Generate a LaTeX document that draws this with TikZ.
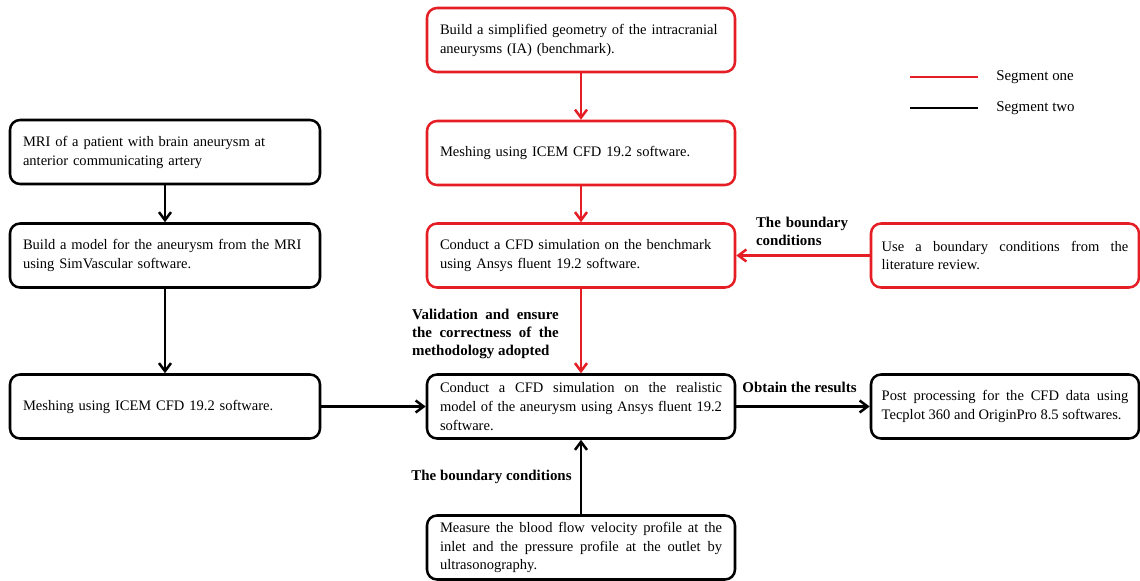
\documentclass[tikz,border=0pt]{standalone}
\usepackage{fontspec}
\setmainfont{Liberation Serif}
\usetikzlibrary{arrows.meta}
\definecolor{segred}{RGB}{228,30,36}
\hyphenpenalty=10000
\exhyphenpenalty=10000
\tikzset{
  box/.style={draw, rounded corners=7.5pt, line width=1.9pt, minimum height=48pt,
    inner xsep=9.75pt, inner ysep=2pt, font=\fontsize{10.9}{14.2}\selectfont},
  redbox/.style={box, draw=segred},
  lbl/.style={font=\fontsize{11.2}{13.5}\selectfont\bfseries, inner sep=0pt},
  flow/.style={line width=1.9pt, -{Straight Barb[length=6pt,width=9pt]}},
  redflow/.style={flow, draw=segred}
}
\begin{document}
\begin{tikzpicture}[x=0.75pt,y=-0.75pt]
\useasboundingbox (0,0) rectangle (1140,581);
% segment one
\node[redbox, text width=211.5pt, align=left] (geom) at (581,40)
  {Build a simplified geometry of the intracranial\\aneurysms (IA) (benchmark).};
\node[redbox, text width=211.5pt, align=left] (meshA) at (581,153)
  {Meshing using ICEM CFD 19.2 software.};
\node[redbox, text width=211.5pt, align=left] (cfdA) at (581,255.5)
  {Conduct a CFD simulation on the benchmark\\using Ansys fluent 19.2 software.};
\node[redbox, text width=185pt, inner xsep=8pt, align=justify] (bcA) at (1005,255.5)
  {Use a boundary conditions from the\linebreak literature review.};
% segment two
\node[box, text width=213pt, align=left] (mri) at (165,152)
  {MRI of a patient with brain aneurysm at\\anterior communicating artery};
\node[box, text width=213pt, align=left] (model) at (165,255.5)
  {Build a model for the aneurysm from the MRI\\using SimVascular software.};
\node[box, text width=213pt, align=left] (meshB) at (165,406.5)
  {Meshing using ICEM CFD 19.2 software.};
\node[box, text width=211.5pt, align=justify] (cfdB) at (581,406.5)
  {Conduct a CFD simulation on the realistic\linebreak model of the aneurysm using Ansys fluent 19.2\linebreak software.};
\node[box, text width=211.5pt, align=justify] (measure) at (581,547.5)
  {Measure the blood flow velocity profile at the\linebreak inlet and the pressure profile at the outlet by\linebreak ultrasonography.};
\node[box, text width=185pt, inner xsep=8pt, align=justify] (post) at (1005,406.5)
  {Post processing for the CFD data using\linebreak Tecplot 360 and OriginPro 8.5 softwares.};
% labels
\node[lbl, text width=69pt, align=justify] (bclbl) at (802,231)
  {The boundary\linebreak conditions};
\node[lbl, text width=110pt, align=justify] (vallbl) at (485.5,334)
  {Validation and ensure\linebreak the correctness of the\linebreak methodology adopted};
\node[lbl] (reslbl) at (799.5,387) {Obtain the results};
\node[lbl] (bclblB) at (491.5,477) {The boundary conditions};
% arrows
\draw[redflow] (geom) -- (meshA);
\draw[redflow] (meshA) -- (cfdA);
\draw[redflow] (cfdA) -- (cfdB);
\draw[redflow] (bcA) -- (cfdA);
\draw[flow] (mri) -- (model);
\draw[flow] (model) -- (meshB);
\draw[flow] (meshB) -- (cfdB);
\draw[flow] (cfdB) -- (post);
\draw[flow] (measure) -- (cfdB);
% legend
\node[font=\fontsize{11.2}{14}\selectfont, anchor=west, inner sep=0pt] (legone) at (996,77) {Segment one};
\node[font=\fontsize{11.2}{14}\selectfont, anchor=west, inner sep=0pt] (legtwo) at (996,108) {Segment two};
\draw[segred, line width=2.2pt] ([xshift=-13.5pt]legone.west) -- ++(-68,0);
\draw[line width=2.2pt] ([xshift=-13.5pt]legtwo.west) -- ++(-68,0);
\end{tikzpicture}
\end{document}
